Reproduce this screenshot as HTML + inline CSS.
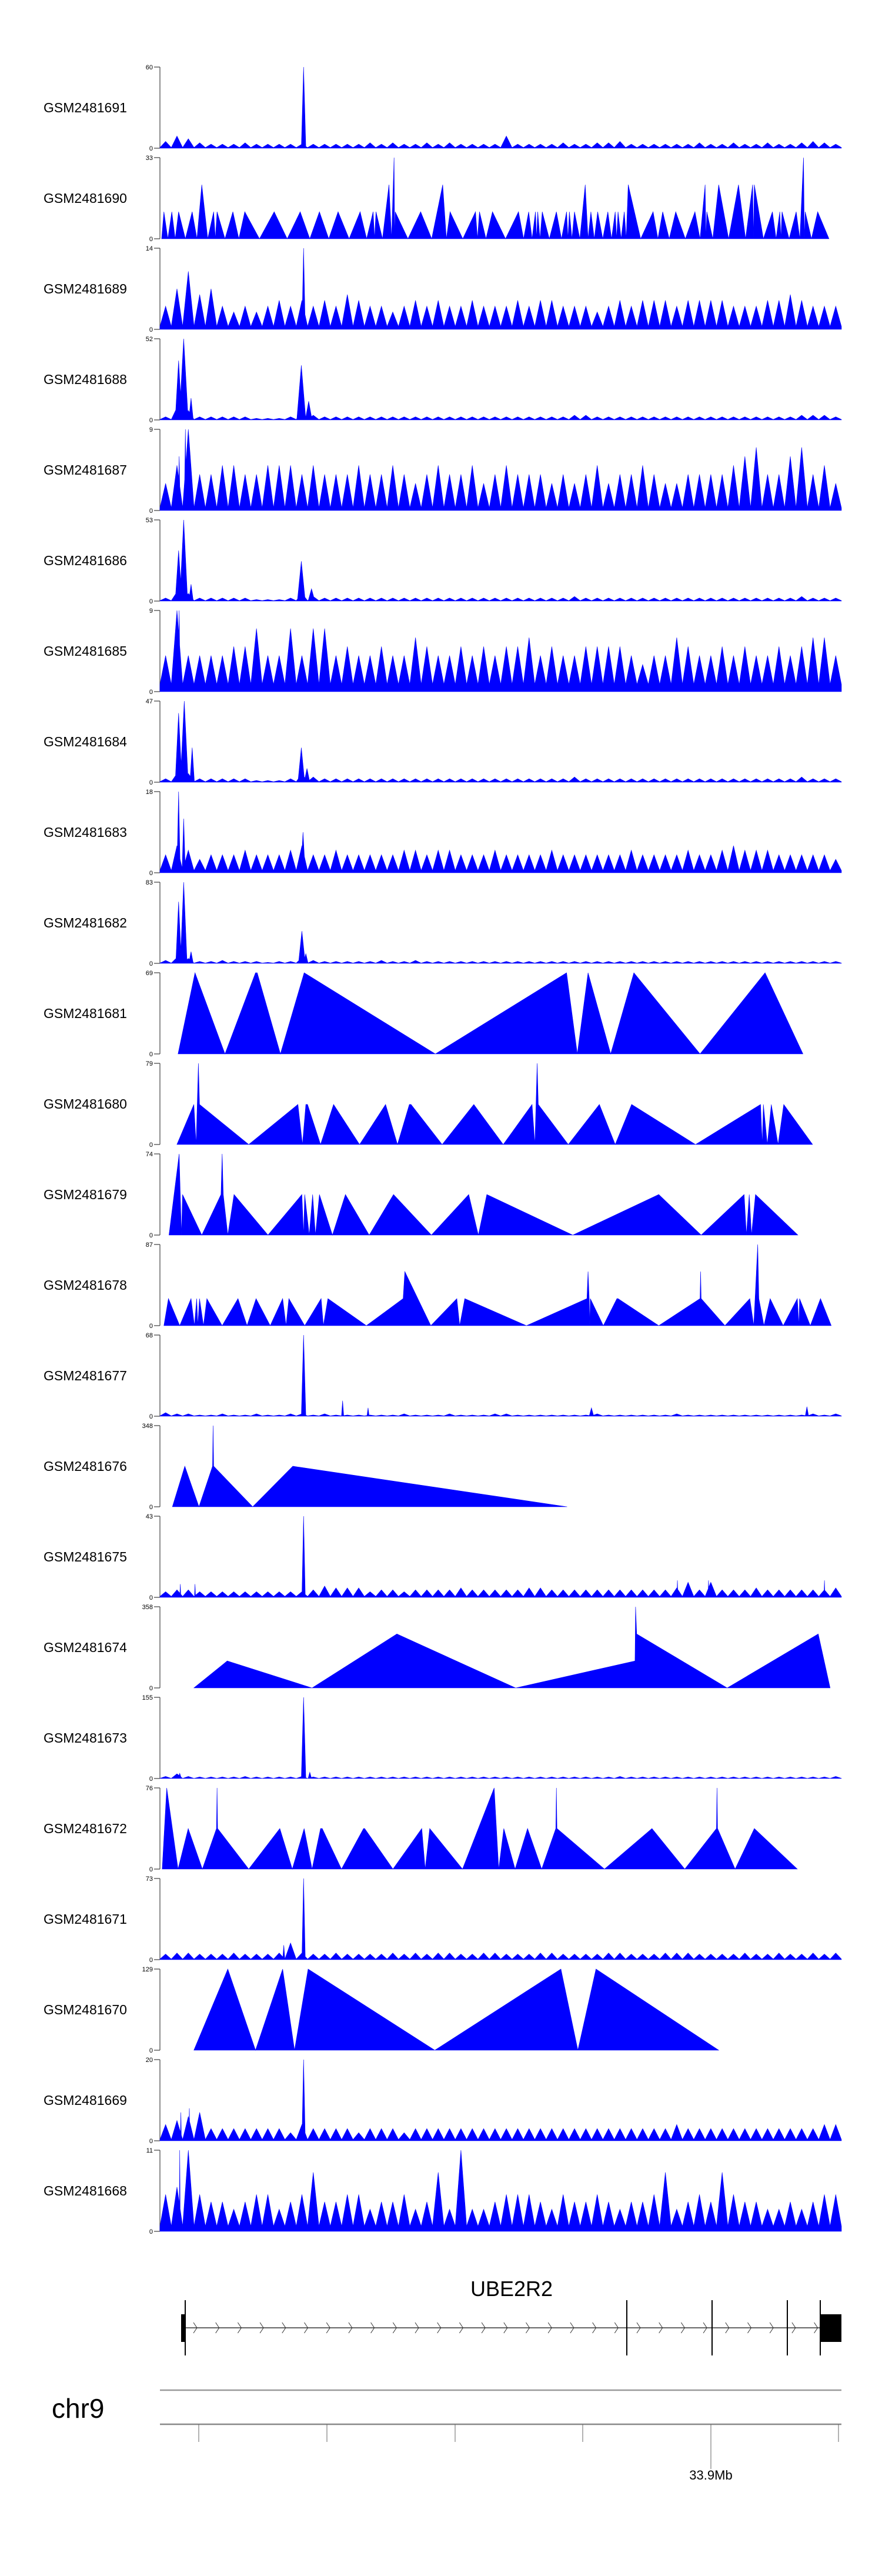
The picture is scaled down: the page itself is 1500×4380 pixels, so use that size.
<!DOCTYPE html>
<html><head><meta charset="utf-8"><title>Coverage tracks UBE2R2</title>
<style>
html,body{margin:0;padding:0;background:#fff;}
svg{display:block;}
text{font-family:"Liberation Sans",sans-serif;}
</style></head>
<body>
<svg id="chart" xmlns="http://www.w3.org/2000/svg" width="1500" height="4380" viewBox="0 0 1500 4380">
  <g id="tracks"></g>
  <g id="gene">
    <text x="870" y="3904" font-size="36" text-anchor="middle">UBE2R2</text>
  </g>
  <g id="genome-axis">
    <text x="88" y="4111" font-size="46">chr9</text>
  </g>
</svg>
<script>
// ---- layout ----
const NS = "http://www.w3.org/2000/svg";
const X0 = 272, X1 = 1431, DOMAIN = 1205;
const TOP0 = 114, PITCH = 154, PH = 138;
function xs(p){ return X0 + p / DOMAIN * (X1 - X0); }
function ys(v, max, top){ return top + PH - Math.min(v, max) / max * PH; }

// ---- data ----
const trackNames = ["GSM2481691","GSM2481690","GSM2481689","GSM2481688","GSM2481687","GSM2481686","GSM2481685","GSM2481684","GSM2481683","GSM2481682","GSM2481681","GSM2481680","GSM2481679","GSM2481678","GSM2481677","GSM2481676","GSM2481675","GSM2481674","GSM2481673","GSM2481672","GSM2481671","GSM2481670","GSM2481669","GSM2481668"];
const trackMax = [60,33,14,52,9,53,9,47,18,83,69,79,74,87,68,348,43,358,155,76,73,129,20,11];
const trackFloor = [0.5,0,0.5,0.3,0.3,0.3,0.8,0.3,0.5,0.3,0,0,0,0,0.3,0,0.5,0,0.3,0,0.5,0,0.3,0.7];

const noise1691 = [5,9,7,4,3,3,3,4,3,3,3,3,3,3,3,3,3,3,4,3,4,3,3,4,3,4,3,3,3,3,9,3,3,3,3,4,3,3,4,4,5,3,3,3,3,3,3,4,3,3,4,3,3,4,3,3,4,5,4,3];
const peaks1691 = [[254,60,4]];
const apex1690pos = [7,21,33,57,74,95,101,129,150,202,248,282,315,354,377,382,405,414,416,461,500,513,558,565,588,634,652,664,668,676,701,719,724,733,752,762,774,792,805,810,821,828,872,889,912,946,964,967,988,1023,1048,1051,1083,1096,1100,1125,1138,1141,1163];
const apex1690val = [11,11,11,11,22,11,11,11,11,11,11,11,11,11,11,11,22,33,11,11,22,11,11,11,11,11,11,11,11,11,11,11,11,11,22,11,11,11,11,11,11,22,11,11,11,11,22,11,22,22,22,22,11,11,11,11,33,11,11];
const noise1689 = [4,7,10,6,7,4,3,4,3,4,5,4,5,4,5,4,6,5,4,4,3,4,5,4,5,4,4,5,4,4,4,5,4,5,5,4,4,4,3,4,5,4,5,5,5,4,5,5,5,5,4,4,4,5,5,6,5,4,4,4];
const peaks1689 = [[254,14,3]];
const noise1688 = [2,8,6,2,2,2,2,2,1,1,1,2,6,3,2,2,2,2,2,2,2,2,2,2,2,2,2,2,2,2,2,2,2,2,2,2,3,3,2,2,2,2,2,2,2,2,2,2,2,2,2,2,2,2,2,2,3,3,3,2];
const peaks1688 = [[33,38,6],[42,52,8],[55,14,4],[250,35,8],[263,12,6]];
const noise1687 = [3,5,9,4,4,5,5,4,4,5,5,5,4,5,4,4,4,5,4,4,5,4,3,4,5,4,4,5,3,4,5,4,4,4,3,4,3,4,5,3,4,4,5,4,3,3,4,4,4,4,5,6,7,4,4,6,7,4,5,3];
const peaks1687 = [[45,9,2],[34,6,2]];
const noise1686 = [2,6,5,2,2,2,2,2,1,1,1,2,5,3,2,2,2,2,2,2,2,2,2,2,2,2,2,2,2,2,2,2,2,2,2,2,3,2,2,2,2,2,2,2,2,2,2,2,2,2,2,2,2,2,2,2,3,2,2,2];
const peaks1686 = [[33,33,6],[42,53,7],[55,11,4],[250,26,7],[268,8,6]];
const noise1685 = [4,9,4,4,4,4,5,5,7,4,4,7,4,7,7,4,5,4,4,5,4,4,6,5,4,4,5,4,5,4,5,5,6,4,5,4,4,5,5,5,5,4,3,4,4,6,5,4,4,5,4,5,4,4,5,4,5,6,6,4];
const peaks1685 = [[34,9,2]];
const noise1684 = [2,5,5,2,2,2,2,2,1,1,1,2,5,3,2,2,2,2,2,2,2,2,2,2,2,2,2,2,2,2,2,2,2,2,2,2,3,2,2,2,2,2,2,2,2,2,2,2,2,2,2,2,2,2,2,2,3,2,2,2];
const peaks1684 = [[33,40,6],[43,47,7],[57,20,4],[250,20,6],[260,8,5]];
const noise1683 = [4,6,5,3,4,4,4,5,4,4,4,5,6,4,4,5,4,4,4,4,4,5,5,4,5,5,4,4,4,5,4,4,4,4,5,4,4,4,4,4,4,5,4,4,4,4,5,4,4,5,6,5,5,5,4,4,4,4,4,3];
const peaks1683 = [[33,18,3],[42,12,3],[253,9,4]];
const noise1682 = [3,6,5,2,2,3,2,2,2,1,2,2,6,3,2,2,2,2,2,3,2,2,3,2,2,2,2,2,2,2,2,2,2,2,2,2,2,2,2,2,2,2,2,2,2,2,2,2,2,2,2,2,2,2,2,2,2,2,2,2];
const peaks1682 = [[33,63,5],[42,83,6],[55,12,4],[251,33,6],[258,10,4]];
const pts1681 = [[32,0],[62,69],[115,0],[169,69],[172,69],[213,0],[255,69],[487,0],[719,69],[738,0],[757,69],[797,0],[838,69],[955,0],[1070,69],[1137,0]];
const pts1680 = [[30,0],[60,39],[64,0],[68,79],[70,39],[157,0],[244,39],[252,0],[258,39],[261,39],[284,0],[307,39],[353,0],[399,39],[420,0],[441,39],[444,39],[499,0],[555,39],[607,0],[658,39],[663,0],[667,79],[669,39],[722,0],[777,39],[805,0],[834,39],[947,0],[1062,39],[1065,0],[1067,39],[1074,0],[1081,39],[1093,0],[1103,39],[1154,0]];
const pts1679 = [[16,0],[34,74],[36,37],[38,0],[40,37],[74,0],[108,37],[110,74],[112,37],[120,0],[131,37],[191,0],[251,37],[254,0],[256,37],[264,0],[270,37],[275,0],[282,37],[305,0],[328,37],[370,0],[413,37],[480,0],[546,37],[563,0],[578,37],[730,0],[882,37],[957,0],[1033,37],[1037,0],[1042,37],[1046,0],[1053,37],[1128,0]];
const pts1678 = [[7,0],[15,29],[35,0],[55,29],[61,0],[65,29],[67,0],[70,29],[77,0],[83,29],[110,0],[138,29],[154,0],[170,29],[195,0],[217,29],[223,0],[228,29],[256,0],[285,29],[289,0],[297,29],[365,0],[430,29],[433,58],[479,0],[525,29],[530,0],[539,29],[648,0],[755,29],[757,58],[759,29],[760,0],[761,29],[784,0],[808,29],[810,29],[882,0],[955,29],[956,58],[957,29],[999,0],[1043,29],[1050,0],[1057,87],[1059,29],[1068,0],[1079,29],[1102,0],[1127,29],[1130,0],[1131,29],[1150,0],[1168,29],[1187,0]];
const noise1677 = [3,2,2,1,1,2,1,1,2,1,1,2,2,1,2,1,1,1,1,1,1,2,1,1,1,2,1,1,1,2,2,1,1,1,1,1,1,1,2,1,1,1,1,1,1,2,1,1,1,1,1,1,1,1,1,1,1,2,1,2];
const peaks1677 = [[254,68,4],[323,13,2],[368,7,2],[763,7,4],[1144,8,3]];
const pts1676 = [[22,0],[44,174],[69,0],[93,174],[94,348],[95,174],[164,0],[235,174],[720,0]];
const noise1675 = [3,4,4,3,3,3,3,3,3,3,3,3,3,4,6,5,5,5,3,4,4,3,4,4,4,4,5,4,4,4,4,4,5,5,4,4,4,4,4,4,4,4,4,4,4,5,8,4,8,4,4,4,5,4,4,4,4,4,4,5];
const peaks1675 = [[254,43,3],[36,7,1],[62,7,1],[915,9,1],[970,9,1],[1175,9,1]];
const pts1674 = [[60,0],[119,119],[269,0],[419,238],[629,0],[840,119],[841,358],[843,238],[1003,0],[1164,238],[1185,0]];
const noise1673 = [4,9,4,3,3,3,3,4,3,3,3,3,4,3,3,3,3,3,3,3,3,3,3,3,3,3,3,3,3,3,3,3,3,3,3,3,3,3,3,3,4,3,3,3,3,3,3,3,3,3,3,3,3,3,3,3,3,3,3,4];
const peaks1673 = [[254,155,4],[35,10,3],[265,12,3]];
const pts1672 = [[4,0],[12,76],[32,0],[50,38],[75,0],[100,38],[101,76],[102,38],[157,0],[212,38],[234,0],[255,38],[269,0],[284,38],[287,38],[321,0],[360,38],[362,38],[412,0],[463,38],[469,0],[477,38],[535,0],[591,76],[599,0],[608,38],[628,0],[650,38],[675,0],[700,38],[701,76],[702,38],[786,0],[870,38],[928,0],[984,38],[985,76],[986,38],[1017,0],[1051,38],[1127,0]];
const noise1671 = [5,6,6,5,5,5,6,5,5,5,6,15,6,5,5,6,5,5,5,5,6,5,6,5,6,6,5,5,6,6,5,5,5,6,6,5,5,5,5,6,6,5,5,5,6,6,6,5,5,5,5,6,5,5,6,5,5,6,5,6];
const peaks1671 = [[254,73,3],[219,13,2]];
const pts1670 = [[60,0],[120,129],[169,0],[217,129],[238,0],[262,129],[486,0],[709,129],[739,0],[771,129],[988,0]];
const noise1669 = [4,5,6,7,3,3,3,3,3,3,3,2,4,3,3,3,3,2,3,3,3,2,3,3,3,3,3,3,3,3,3,3,3,3,3,3,3,3,3,3,3,3,3,3,3,4,3,3,3,3,3,3,3,3,3,3,3,3,4,4];
const peaks1669 = [[254,20,3],[37,7,1],[52,8,1]];
const noise1668 = [5,6,11,5,4,4,3,4,5,5,3,4,5,8,4,4,5,5,3,4,4,5,3,4,8,3,11,3,3,4,5,5,5,4,3,5,4,4,5,4,3,4,4,5,8,3,4,5,4,8,5,4,4,3,3,4,3,4,5,5];
const peaks1668 = [[35,11,1]];

const trackKind = ["noise","apex","noise","noise","noise","noise","noise","noise","noise","noise","pts","pts","pts","pts","noise","pts","noise","pts","noise","pts","noise","pts","noise","noise"];
const trackNoise = [noise1691,null,noise1689,noise1688,noise1687,noise1686,noise1685,noise1684,noise1683,noise1682,null,null,null,null,noise1677,null,noise1675,null,noise1673,null,noise1671,null,noise1669,noise1668];
const trackPeaks = [peaks1691,null,peaks1689,peaks1688,peaks1687,peaks1686,peaks1685,peaks1684,peaks1683,peaks1682,null,null,null,null,peaks1677,null,peaks1675,null,peaks1673,null,peaks1671,null,peaks1669,peaks1668];
const trackPts = [null,null,null,null,null,null,null,null,null,null,pts1681,pts1680,pts1679,pts1678,null,pts1676,null,pts1674,null,pts1672,null,pts1670,null,null];

// gene / axis data
const exonLines = [315,1066,1211,1339,1395];
const axisTicks = [338,556,774,991,1209,1426];
const axisLabel = "33.9Mb";
const axisLabelTick = 1209;

// ---- render ----
function mk(tag, attrs, parent){
  const el = document.createElementNS(NS, tag);
  for (const k in attrs) el.setAttribute(k, attrs[k]);
  parent.appendChild(el);
  return el;
}
const tracksG = document.getElementById("tracks");
trackNames.forEach((name, i) => {
  const top = TOP0 + PITCH * i, max = trackMax[i], base = top + PH;
  const g = mk("g", {}, tracksG);
  
  
  const lbl = mk("text", {x: 74, y: top + 69 + 8, "font-size": 23, fill: "#000"}, g);
  lbl.textContent = name;
  
  
  const ax = mk("path", {d: `M${X0} ${top}V${base}M${X0-10} ${top}H${X0}M${X0-10} ${base}H${X0}`, stroke: "#444", "stroke-width": 1.2, fill: "none"}, g);
  
  
  const tMax = mk("text", {x: X0 - 12, y: top + 4, "font-size": 11, "text-anchor": "end"}, g);
  tMax.textContent = String(max);
  
  
  const t0 = mk("text", {x: X0 - 12, y: base + 4, "font-size": 11, "text-anchor": "end"}, g);
  t0.textContent = "0";
  
  

  let d = "";
  if (trackKind[i] === "noise") {
    const vals = trackNoise[i], n = vals.length, bw = DOMAIN / n, f = trackFloor[i];
    d = `M${xs(0)} ${base}`;
    vals.forEach((v, k) => {
      d += `L${xs(k*bw)} ${ys(f, max, top)}L${xs(k*bw + bw*0.5)} ${ys(v, max, top)}`;
    });
    d += `L${xs(DOMAIN)} ${ys(f, max, top)}L${xs(DOMAIN)} ${base}Z`;
    trackPeaks[i].forEach(p => {
      d += `M${xs(p[0]-p[2])} ${base}L${xs(p[0])} ${ys(p[1], max, top)}L${xs(p[0]+p[2])} ${base}Z`;
    });
  } else if (trackKind[i] === "apex") {
    const pos = apex1690pos, val = apex1690val;
    d = `M${xs(pos[0]-4)} ${base}`;
    pos.forEach((p, k) => {
      d += `L${xs(p)} ${ys(val[k], max, top)}`;
      const nx = k < pos.length - 1 ? (p + pos[k+1]) / 2 : p + 20;
      d += `L${xs(nx)} ${base}`;
    });
    d += "Z";
  } else {
    const pts = trackPts[i];
    d = `M${xs(pts[0][0])} ${base}`;
    pts.forEach(p => { d += `L${xs(p[0])} ${ys(p[1], max, top)}`; });
    d += `L${xs(pts[pts.length-1][0])} ${base}Z`;
  }
  const area = mk("path", {d: d, fill: "#0000ff", stroke: "#0000ff", "stroke-width": 0.6, "stroke-linejoin": "miter"}, g);
  
  
});

// gene model
const geneG = document.getElementById("gene");
const intron = mk("line", {x1: 315, x2: 1395, y1: 3958, y2: 3958, stroke: "#333", "stroke-width": 1.5}, geneG);


let chev = "";
for (let cx = 332; cx <= 1392; cx += 37.7) { chev += `M${cx-3} ${3949}L${cx+3} ${3958}L${cx-3} ${3967}`; }
const chevrons = mk("path", {d: chev, stroke: "#333", "stroke-width": 1, fill: "none"}, geneG);


exonLines.forEach(x => {
  const l = mk("line", {x1: x, x2: x, y1: 3911, y2: 4005, stroke: "#000", "stroke-width": 2}, geneG);
  
  
});
const ex1 = mk("rect", {x: 308, y: 3935, width: 7, height: 47, fill: "#000"}, geneG);


const ex2 = mk("rect", {x: 1395, y: 3935, width: 36, height: 47, fill: "#000"}, geneG);



// genome axis
const axG = document.getElementById("genome-axis");
const l1 = mk("line", {x1: 272, x2: 1431, y1: 4064, y2: 4064, stroke: "#999", "stroke-width": 2.5}, axG);


const l2 = mk("line", {x1: 272, x2: 1431, y1: 4122, y2: 4122, stroke: "#888", "stroke-width": 2.5}, axG);


axisTicks.forEach(x => {
  const t = mk("line", {x1: x, x2: x, y1: 4122, y2: x === axisLabelTick ? 4198 : 4152, stroke: "#666", "stroke-width": 1}, axG);
  
  
});
const al = mk("text", {x: axisLabelTick, y: 4216, "font-size": 22, "text-anchor": "middle"}, axG);
al.textContent = axisLabel;


</script>
</body></html>
